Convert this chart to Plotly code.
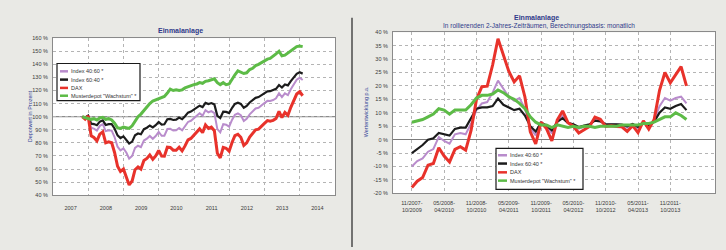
import pandas as pd
import plotly.graph_objects as go

W, H = 726, 250

# ---------------- data: left chart (value in %, month-end, 10/2007 .. 01/2014)
months = pd.date_range("2007-10-31", periods=76, freq=pd.offsets.MonthEnd()).strftime("%Y-%m-%d").tolist()

idx4060 = [100.0, 99.1, 100.8, 91.5, 90.9, 89.4, 93.0, 94.3, 89.0, 89.7,
           89.4, 84.5, 77.1, 74.3, 75.8, 72.5, 68.0, 70.0, 76.1, 77.8,
           76.8, 81.8, 83.2, 85.3, 83.1, 85.2, 88.4, 85.4, 85.5, 90.6,
           90.7, 89.4, 89.6, 91.4, 89.6, 92.5, 96.0, 96.9, 99.1, 100.7,
           102.6, 100.8, 105.0, 103.4, 104.3, 102.7, 90.5, 88.0, 94.3, 93.9,
           92.4, 97.7, 101.5, 102.5, 101.1, 96.8, 98.4, 101.8, 103.8, 106.3,
           106.8, 108.3, 110.4, 112.1, 112.0, 112.7, 114.0, 117.9, 114.9, 117.8,
           116.5, 121.0, 124.9, 128.3, 129.7, 128.0]
idx6040 = [100.0, 99.5, 100.8, 94.7, 94.4, 93.5, 96.2, 97.2, 93.7, 94.3,
           94.3, 91.0, 85.7, 83.7, 85.0, 82.5, 79.5, 81.0, 85.8, 87.2,
           86.6, 90.5, 91.6, 93.3, 91.8, 93.5, 96.0, 94.0, 94.2, 98.1,
           98.3, 97.5, 97.8, 99.3, 98.1, 100.4, 103.1, 103.9, 105.6, 107.0,
           108.4, 107.4, 110.5, 109.6, 110.4, 109.4, 100.7, 99.0, 103.8, 103.7,
           102.8, 106.8, 109.8, 110.7, 109.8, 106.8, 108.2, 110.9, 112.5, 114.4,
           115.0, 116.3, 118.0, 119.3, 119.5, 120.2, 121.3, 124.2, 122.3, 124.6,
           123.9, 127.2, 130.1, 132.7, 133.9, 132.9]
dax = [100.0, 98.1, 100.6, 85.4, 84.1, 81.5, 86.7, 88.5, 80.0, 80.8,
       80.1, 72.7, 62.2, 58.2, 60.0, 54.1, 47.9, 50.9, 59.5, 61.6,
       60.0, 66.5, 68.1, 70.8, 67.5, 70.1, 74.3, 69.9, 69.8, 76.7,
       76.5, 74.4, 74.4, 76.7, 73.9, 77.7, 82.3, 83.4, 86.2, 88.3,
       90.7, 87.8, 93.7, 91.0, 92.0, 89.3, 72.1, 68.6, 76.6, 75.9,
       73.6, 80.5, 85.5, 86.6, 84.3, 78.1, 80.0, 84.4, 86.9, 90.0,
       90.5, 92.3, 94.9, 97.0, 96.5, 97.2, 98.7, 104.1, 99.3, 103.2,
       101.0, 107.2, 112.6, 117.3, 119.1, 116.0]
muster = [100, 99.5, 99, 98, 98.5, 97.5, 99, 99.5, 98, 98.5,
          97.5, 95, 91.5, 91, 92, 91.5, 91, 93, 97, 100,
          102, 105, 107.5, 110, 112, 113, 114, 114.5, 115.5, 118,
          121, 120, 120.5, 120, 120.5, 122, 123, 123.5, 124.5, 125,
          126, 125.5, 127, 127.5, 128, 129, 126, 124.5, 126, 124.5,
          125, 129, 132, 135, 134, 133, 133.5, 136, 137, 139,
          140, 141.5, 142.5, 144, 144.5, 146, 148, 150, 146.5, 147,
          148.5, 150.5, 152, 153.5, 154, 153.5]

# ---------------- data: right chart (rolling 2-year returns p.a. in %)
win_start = pd.date_range("2007-11-01", periods=52, freq="MS")
win_end = win_start + pd.DateOffset(months=23)
windows = [f"{s:%m/%Y}-{e:%m/%Y}" for s, e in zip(win_start, win_end)]
win_ticks = windows[::6]
win_ticktext = [w.replace("-", "-<br>") for w in win_ticks]

roll_4060 = [-10.0, -8.0, -7.0, -4.5, -3.5, 1.0, -0.5, -1.5, 2.0, 2.5,
             2.0, 6.0, 11.0, 13.5, 14.0, 17.5, 22.0, 19.0, 16.0, 14.5,
             15.5, 11.5, 4.3, 1.6, 6.5, 5.0, 2.3, 7.0, 9.0, 6.4,
             5.6, 4.1, 4.8, 5.5, 7.7, 7.2, 5.5, 5.7, 5.6, 5.5,
             4.5, 5.7, 4.2, 6.8, 4.9, 7.1, 12.5, 15.5, 14.5, 15.5,
             16.0, 13.5]
roll_6040 = [-5.0, -3.5, -2.0, 0.0, 0.5, 2.5, 2.0, 1.5, 4.0, 4.5,
             4.5, 8.0, 11.5, 12.0, 12.0, 12.5, 15.3, 13.0, 12.0, 11.0,
             11.5, 9.0, 5.0, 3.0, 6.3, 5.3, 3.5, 6.6, 8.0, 6.2,
             5.7, 4.7, 5.2, 5.7, 7.1, 6.8, 5.7, 5.8, 5.7, 5.6,
             5.0, 5.8, 4.7, 6.5, 5.3, 6.7, 10.0, 12.0, 11.5, 12.5,
             13.3, 11.0]
roll_dax = [-17.8, -15.5, -14.1, -9.5, -8.9, -3.0, -6.1, -8.3, -3.6, -2.6,
            -3.9, 3.4, 15.0, 19.7, 19.9, 27.8, 37.6, 31.3, 25.5, 21.5,
            23.8, 15.9, 2.9, -1.6, 6.5, 4.1, -0.5, 7.3, 10.7, 6.3,
            5.0, 2.5, 3.7, 4.9, 8.4, 7.6, 4.9, 5.2, 4.9, 4.8,
            3.1, 5.2, 2.6, 7.0, 3.9, 7.5, 18.4, 25.0, 21.2, 24.3,
            27.2, 20.0]
roll_muster = [6.5, 7.0, 7.5, 8.5, 9.5, 11.5, 11.0, 9.5, 11.0, 11.0,
               11.0, 13.0, 15.5, 16.5, 16.5, 17.0, 18.5, 17.5, 16.0, 15.0,
               13.5, 11.5, 8.5, 6.5, 5.5, 5.5, 4.5, 5.5, 5.0, 4.5,
               5.0, 4.5, 5.0, 5.0, 4.5, 5.0, 5.0, 5.0, 5.0, 5.5,
               5.5, 5.5, 5.5, 6.0, 6.0, 6.5, 7.5, 8.5, 8.5, 10.0,
               9.0, 7.5]

names = ["Index 40:60 *", "Index 60:40 *", "DAX", "Musterdepot \"Wachstum\" *"]
colors = ["#b98ccc", "#1c1c1c", "#e8322b", "#5dbb47"]
widths = [2, 2.2, 3, 3]

left_y_ticks = list(range(40, 161, 10))
right_y_ticks = list(range(-20, 41, 5))

# ---------------- figure
fig = go.Figure()
left_series = [idx4060, idx6040, dax, muster]
right_series = [roll_4060, roll_6040, roll_dax, roll_muster]
for s, c, w in zip(left_series, colors, widths):
    fig.add_trace(go.Scatter(x=months, y=s, mode="lines", line=dict(color=c, width=w),
                             xaxis="x", yaxis="y", showlegend=False, hoverinfo="skip"))
for s, c, w in zip(right_series, colors, widths):
    fig.add_trace(go.Scatter(x=windows, y=s, mode="lines", line=dict(color=c, width=w),
                             xaxis="x2", yaxis="y2", showlegend=False, hoverinfo="skip"))

def px(x):
    return x / W

def py(y):
    return 1 - y / H

FONT = "Liberation Sans, Arial, sans-serif"
BG = "#e9e9e5"
tickfont = dict(family=FONT, size=5.5, color="#3a3a3a")
grid = dict(showgrid=True, gridcolor="#b4b4b4", griddash="dot", gridwidth=1,
            showline=True, linecolor="#8a8a8a", linewidth=1, mirror=True,
            zeroline=False, ticks="", tickfont=tickfont)

fig.update_layout(
    width=W, height=H, margin=dict(l=0, r=0, t=0, b=0),
    paper_bgcolor=BG, plot_bgcolor="#ffffff",
    font=dict(family=FONT),
    xaxis=dict(domain=[px(53), px(335)], anchor="y", type="date",
               range=["2007-01-01", "2015-01-01"], tick0="2007-01-01", dtick="M12",
               ticklabelmode="period", tickformat="%Y", ticklabelstandoff=7, **grid),
    yaxis=dict(domain=[py(197), py(36)], anchor="x", range=[40, 160],
               tickvals=left_y_ticks, ticktext=[f"{v} %" for v in left_y_ticks],
               ticklabelstandoff=3, **grid),
    xaxis2=dict(domain=[px(393), px(715)], anchor="y2", type="category",
                range=[-3.5, 56.3], tickvals=win_ticks, ticktext=win_ticktext,
                tickangle=0, ticklabelstandoff=4, **grid),
    yaxis2=dict(domain=[py(195), py(30)], anchor="x2", range=[-20, 40],
                tickvals=right_y_ticks, ticktext=[f"{v} %" for v in right_y_ticks],
                ticklabelstandoff=3, **grid),
)
fig.layout.yaxis2.zeroline = True
fig.layout.yaxis2.zerolinecolor = "#7a7a7a"
fig.layout.yaxis2.zerolinewidth = 1.2

shapes = []
annotations = []
# 100 % reference line (left)
shapes.append(dict(type="line", xref="x domain", yref="y", x0=0, x1=1, y0=100, y1=100,
                   line=dict(color="#8c8c8c", width=1.2), layer="below"))
# divider between panels
shapes.append(dict(type="line", xref="paper", yref="paper", x0=px(352), x1=px(352),
                   y0=0, y1=py(15), line=dict(color="#4a4a4a", width=1.5)))

TITLE = "#2f3a8a"
annotations.append(dict(text="<b>Einmalanlage</b>", x=px(180), y=py(29), xref="paper", yref="paper",
                        showarrow=False, font=dict(family=FONT, size=7, color=TITLE),
                        xanchor="center", yanchor="middle"))
annotations.append(dict(text="<b>Einmalanlage</b>", x=px(536), y=py(15), xref="paper", yref="paper",
                        showarrow=False, font=dict(family=FONT, size=7, color=TITLE),
                        xanchor="center", yanchor="middle"))
annotations.append(dict(text="In rollierenden 2-Jahres-Zeiträumen, Berechnungsbasis: monatlich",
                        x=px(539), y=py(24), xref="paper", yref="paper", showarrow=False,
                        font=dict(family=FONT, size=6.5, color=TITLE),
                        xanchor="center", yanchor="middle"))
annotations.append(dict(text="Depotwert in Prozent", x=px(30), y=py(116), xref="paper", yref="paper",
                        showarrow=False, textangle=-90, font=dict(family=FONT, size=5.5, color="#3a4a9a"),
                        xanchor="center", yanchor="middle"))
annotations.append(dict(text="Wertentwicklung p.a.", x=px(366), y=py(112), xref="paper", yref="paper",
                        showarrow=False, textangle=-90, font=dict(family=FONT, size=5.5, color="#3a4a9a"),
                        xanchor="center", yanchor="middle"))

def add_legend(box, rows, x_line, x_text):
    x0, y0, x1, y1 = box
    shapes.append(dict(type="rect", xref="paper", yref="paper", x0=px(x0), x1=px(x1),
                       y0=py(y1), y1=py(y0), fillcolor="#ffffff",
                       line=dict(color="#1a1a1a", width=1.2)))
    for name, c, ry in zip(names, colors, rows):
        shapes.append(dict(type="line", xref="paper", yref="paper", x0=px(x_line[0]), x1=px(x_line[1]),
                           y0=py(ry), y1=py(ry), line=dict(color=c, width=2.5)))
        annotations.append(dict(text=name, x=px(x_text), y=py(ry), xref="paper", yref="paper",
                                showarrow=False, xanchor="left", yanchor="middle",
                                font=dict(family=FONT, size=5.5, color="#333333")))

add_legend((57, 62, 140, 100), [70, 78.5, 87, 95], (60, 68), 69)
add_legend((496, 149, 583, 191), [156, 164.5, 173.5, 182], (498, 507), 508)

fig.update_layout(shapes=shapes, annotations=annotations)

# remove the browser's default body margin so the 726x250 figure fills the window
post_js = ("document.body.style.margin='0';document.body.style.padding='0';"
           "document.body.style.overflow='hidden';"
           f"document.body.style.background='{BG}';")
fig.write_html("out.html", post_script=post_js,
               config={"displayModeBar": False, "staticPlot": True})
